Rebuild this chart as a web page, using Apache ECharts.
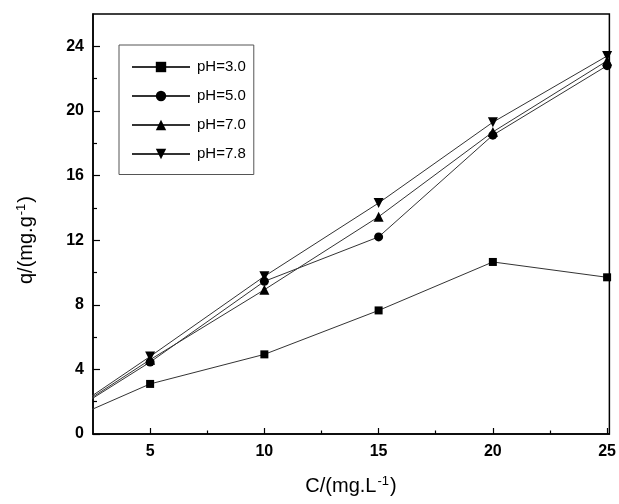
<!DOCTYPE html>
<html>
<head>
<meta charset="utf-8">
<script src="https://cdn.jsdelivr.net/npm/echarts@6/dist/echarts.min.js"></script>
<style>html,body{margin:0;padding:0;background:#fff}#c{width:619px;height:504px}</style>
</head>
<body>
<div id="c"></div>
<script>
var xValues = [0, 5, 10, 15, 20, 25];
var seriesNames = ['pH=3.0', 'pH=5.0', 'pH=7.0', 'pH=7.8'];
var ph30 = [0, 3.10, 4.93, 7.65, 10.65, 9.70];
var ph50 = [0, 4.45, 9.45, 12.20, 18.50, 22.80];
var ph70 = [0, 4.60, 8.93, 13.45, 18.70, 23.10];
var ph78 = [0, 4.80, 9.76, 14.30, 19.30, 23.40];
var xTickLabels = [5, 10, 15, 20, 25];
var xMinorTicks = [7.5, 12.5, 17.5, 22.5];
var yTickLabels = [0, 4, 8, 12, 16, 20, 24];
var yMinorTicks = [2, 6, 10, 14, 18, 22];

function pairs(ys) { return xValues.map(function (x, i) { return [x, ys[i]]; }); }

var font = 'Liberation Sans, Arial, sans-serif';
var chart = echarts.init(document.getElementById('c'));
var symbols = [
  {symbol: 'rect', size: 8, rot: 0},
  {symbol: 'circle', size: 9, rot: 0},
  {symbol: 'triangle', size: 10, rot: 0},
  {symbol: 'triangle', size: 10, rot: 180}
];
var datasets = [ph30, ph50, ph70, ph78];
var titleRich = {
  a: {fontFamily: font, fontSize: 20, color: '#000'},
  s: {fontFamily: font, fontSize: 13, color: '#000', verticalAlign: 'top', padding: [0, 1, 10, 1]}
};

chart.setOption({
  animation: false,
  grid: {left: 93, right: 8, top: 14, bottom: 70, show: true, borderColor: '#000', borderWidth: 1.5, backgroundColor: 'transparent'},
  legend: {
    orient: 'vertical', left: 119, top: 45,
    padding: [14.5, 8, 13, 12],
    borderColor: '#555', borderWidth: 1,
    itemWidth: 58, itemHeight: 13, itemGap: 14,
    textStyle: {fontFamily: font, fontSize: 15, color: '#000', padding: [0, 0, 0, 2]},
    data: seriesNames
  },
  xAxis: [{
    type: 'value', min: 2.5, max: 25.1, position: 'bottom',
    axisLine: {show: true, lineStyle: {color: '#000', width: 1.5}},
    axisTick: {show: true, inside: true, length: 6, customValues: xTickLabels, lineStyle: {color: '#000', width: 1.2}},
    axisLabel: {customValues: xTickLabels, margin: 10, fontFamily: font, fontSize: 16, fontWeight: 'bold', color: '#000'},
    splitLine: {show: false}
  }, {
    type: 'value', min: 2.5, max: 25.1, position: 'bottom',
    axisLine: {show: false},
    axisTick: {show: true, inside: true, length: 3.5, customValues: xMinorTicks, lineStyle: {color: '#000', width: 1.2}},
    axisLabel: {show: false},
    splitLine: {show: false}
  }],
  yAxis: [{
    type: 'value', min: 0, max: 26, position: 'left',
    axisLine: {show: true, lineStyle: {color: '#000', width: 1.5}},
    axisTick: {show: true, inside: true, length: 7, customValues: yTickLabels, lineStyle: {color: '#000', width: 1.2}},
    axisLabel: {customValues: yTickLabels, margin: 9, fontFamily: font, fontSize: 16, fontWeight: 'bold', color: '#000'},
    splitLine: {show: false}
  }, {
    type: 'value', min: 0, max: 26, position: 'left',
    axisLine: {show: false},
    axisTick: {show: true, inside: true, length: 4, customValues: yMinorTicks, lineStyle: {color: '#000', width: 1.2}},
    axisLabel: {show: false},
    splitLine: {show: false}
  }],
  graphic: [{
    type: 'text', x: 351, y: 486,
    style: {text: '{a|C/(mg.L}{s|-1}{a|)}', align: 'center', verticalAlign: 'middle', rich: titleRich}
  }, {
    type: 'text', x: 26, y: 240, rotation: Math.PI / 2,
    style: {text: '{a|q/(mg.g}{s|-1}{a|)}', align: 'center', verticalAlign: 'middle', rich: titleRich}
  }],
  series: datasets.map(function (d, i) {
    return {
      name: seriesNames[i], type: 'line', xAxisIndex: 0, yAxisIndex: 0,
      data: pairs(d), clip: true,
      symbol: symbols[i].symbol, symbolSize: symbols[i].size, symbolRotate: symbols[i].rot,
      showAllSymbol: true,
      lineStyle: {color: '#333', width: 1},
      itemStyle: {color: '#000', borderWidth: 0}
    };
  })
});
</script>
</body>
</html>
